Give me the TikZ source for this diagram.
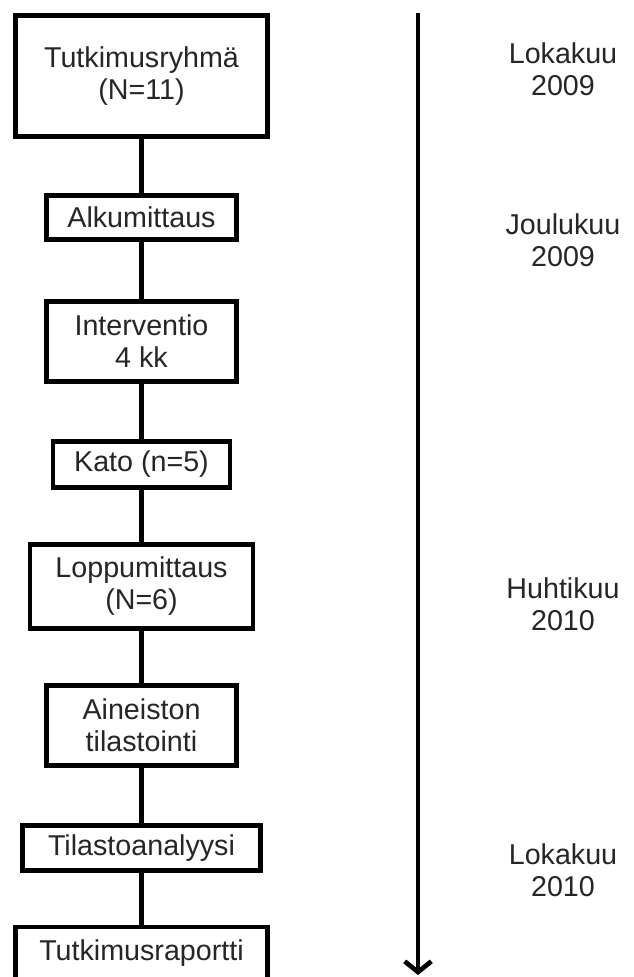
\documentclass[tikz,border=0pt]{standalone}
\usepackage{fontspec}
\setmainfont{Liberation Sans}
\usetikzlibrary{arrows.meta}
\begin{document}
\begin{tikzpicture}[x=0.75pt,y=-0.75pt,
  stagebox/.style 2 args={draw=black, line width=3.5pt, fill=white, align=center, inner sep=0pt,
    minimum width=#1*0.75pt, minimum height=#2*0.75pt,
    font=\fontsize{21.5}{24}\selectfont, text=black!85},
  datelabel/.style={align=center, inner sep=0pt, font=\fontsize{21.5}{24}\selectfont, text=black!85},
  link/.style={line width=3.5pt}]
\useasboundingbox (0,0) rectangle (634,977);
\clip (0,0) rectangle (634,977);
\fill[white] (0,0) rectangle (634,977);
\node[stagebox={252}{121}] (b1) at (141.5,76) {Tutkimusryhmä\\(N=11)};
\node[stagebox={190}{44}] (b2) at (141.5,217.5) {Alkumittaus};
\node[stagebox={190}{80}] (b3) at (141.5,341.5) {Interventio\\4 kk};
\node[stagebox={177}{46}] (b4) at (141.5,464.5) {Kato (n=5)};
\node[stagebox={223}{84}] (b5) at (141.5,586.5) {Loppumittaus\\(N=6)};
\node[stagebox={190}{80}] (b6) at (141.5,725.5) {Aineiston\\tilastointi};
\node[stagebox={238}{45}] (b7) at (141.5,848) {Tilastoanalyysi};
\node[stagebox={252}{56}, text depth=0pt] (b8) at (141.5,955) {\raisebox{7pt}{Tutkimusraportti}};
\foreach \a/\b in {b1/b2,b2/b3,b3/b4,b4/b5,b5/b6,b6/b7,b7/b8}
  \draw[link] (\a.south) -- (\b.north);
\coordinate (ta) at (418,13);
\coordinate (tb) at (418,975);
\draw[link, -{Straight Barb[length=8pt,width=20pt,line width=3.5pt]}] (ta) -- (tb);
\node[datelabel] (d1) at (563,69) {Lokakuu\\2009};
\node[datelabel] (d2) at (563,240) {Joulukuu\\2009};
\node[datelabel] (d3) at (563,604) {Huhtikuu\\2010};
\node[datelabel] (d4) at (563,870) {Lokakuu\\2010};
\end{tikzpicture}
\end{document}
